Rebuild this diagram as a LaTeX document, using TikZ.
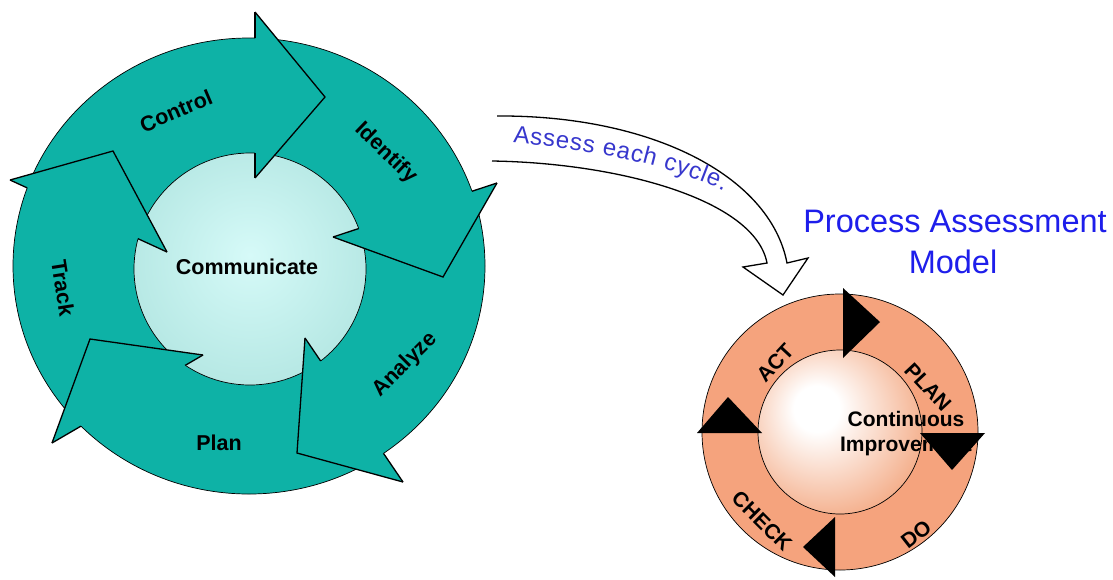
\documentclass[tikz,border=0pt]{standalone}
\usepackage{fontspec}
\setmainfont{Liberation Sans}
\usetikzlibrary{decorations.text}
\definecolor{tealc}{RGB}{14,178,166}
\definecolor{commin}{RGB}{214,250,248}
\definecolor{commout}{RGB}{150,214,208}
\definecolor{salmonc}{RGB}{245,163,125}
\definecolor{orone}{RGB}{242,160,118}
\definecolor{ortwo}{RGB}{222,100,50}
\definecolor{assessblue}{RGB}{55,55,205}
\definecolor{titleblue}{RGB}{30,30,235}
\pgfdeclareradialshading{commshade}{\pgfpoint{0bp}{3bp}}{color(0bp)=(commin); color(53bp)=(commout)}
\pgfdeclareradialshading{orsphere}{\pgfpoint{-8bp}{8bp}}{color(0bp)=(white); color(7bp)=(white); color(35bp)=(orone); color(60bp)=(ortwo)}
\newcommand\lblfont{\fontsize{21.5}{25}\selectfont\bfseries}
\newcommand\rlblfont{\fontsize{21}{25}\selectfont\bfseries}
\newcommand\cifont{\fontsize{21}{25}\selectfont\bfseries}
\newcommand\titlefont{\fontsize{32.5}{38}\selectfont}
\tikzset{
  thinline/.style={draw=black, line width=0.7pt},
  headline/.style={draw=black, line width=1.3pt, line join=miter},
  lbl/.style={font=\lblfont, text=black, inner sep=0pt},
  rlbl/.style={font=\rlblfont, text=black, inner sep=0pt},
  blackhead/.style={fill=black},
}
\begin{document}
\begin{tikzpicture}[x=1pt,y=-1pt]
\fill[white] (0,0) rectangle (1113,579);
\useasboundingbox (0,0) rectangle (1113,579);

% ---------- left cycle ----------
\coordinate (cc) at (249,266);
\draw[thinline, fill=tealc] (cc) ellipse [x radius=236pt, y radius=228pt];
\node[thinline, circle, minimum size=232pt, inner sep=0pt, shade, shading=commshade] (comm) at (250,269) {};

% head corners: O outer, T tip, I inner
\coordinate (ctO) at (255,12);  \coordinate (ctT) at (325,97);  \coordinate (ctI) at (255,178);
\coordinate (idO) at (497,183); \coordinate (idT) at (443,277); \coordinate (idI) at (333,237);
\coordinate (anO) at (403,482); \coordinate (anT) at (297,453); \coordinate (anI) at (305,338);
\coordinate (plO) at (52,443);  \coordinate (plT) at (90,339);  \coordinate (plI) at (203,355);
\coordinate (trO) at (10,180);  \coordinate (trT) at (113,151); \coordinate (trI) at (167,252);

\foreach \h in {ct,id,an,pl,tr}{
  \fill[tealc] (\h O) -- (\h T) -- (\h I) -- cycle;
}
\foreach \h in {ct,id,an,pl,tr}{
  \draw[headline] (\h O) -- (\h T) -- (\h I);
}
\begin{scope}[even odd rule]
  \clip (-20,-20) rectangle (1130,600)
     (cc) ellipse [x radius=236pt, y radius=228pt]
     (250,269) circle [radius=116pt];
  \foreach \h in {ct,id,an,pl,tr}{
    \draw[headline] (\h O) -- (\h I);
  }
\end{scope}

\node[lbl] (tcomm) at (247,267) {Communicate};
\node[lbl, rotate=23] (tcontrol) at (176,111) {Control};
\node[lbl, rotate=-44] (tidentify) at (386,153) {Identify};
\node[lbl, rotate=45] (tanalyze) at (405,365) {Analyze};
\node[lbl] (tplan) at (219,443) {Plan};
\node[lbl, rotate=-81] (ttrack) at (63,288) {Track};

% ---------- hollow arrow ----------
\coordinate (aT0) at (497,116);
\coordinate (aB0) at (492,161);
\coordinate (aHr) at (808,258);
\coordinate (aTip) at (783,295);
\coordinate (aHl) at (743,267);
\draw[line width=1.3pt, fill=white, line join=miter]
  (aT0) .. controls (650,115) and (770,175) .. (787,263)
  -- (aHr) -- (aTip) -- (aHl) -- (767,263)
  .. controls (755,200) and (620,163) .. (aB0);
\path[decorate, decoration={text along path,
   text={|\fontsize{24}{28}\selectfont\color{assessblue}|Assess each cycle.},
   text align={fit to path}}]
  (513,143) .. controls (590,150) and (660,162) .. (724,191);

% ---------- title ----------
\node[anchor=base, font=\titlefont, text=titleblue, inner sep=0pt] (pam1) at (955,232) {Process Assessment};
\node[anchor=base, font=\titlefont, text=titleblue, inner sep=0pt] (pam2) at (953,273) {Model};

% ---------- right cycle ----------
\node[thinline, circle, fill=salmonc, minimum size=276pt, inner sep=0pt] (pdca) at (840,432) {};
\node[thinline, circle, shade, shading=orsphere, minimum size=164pt, inner sep=0pt] (ci) at (840,432) {};

\node[rlbl, rotate=47] (tact) at (775,363) {ACT};
\node[rlbl, rotate=-47] (tplan2) at (928,387) {PLAN};
\node[rlbl, rotate=38] (tdo) at (916,534) {DO};
\node[rlbl, rotate=-45] (tcheck) at (762,521) {CHECK};
\node[rlbl, align=center, font=\cifont] (tci) at (906,434) {Continuous\\Improvement};

\fill[blackhead] (843,288) -- (880,322) -- (843,358) -- cycle;
\fill[blackhead] (920,433) -- (985,433) -- (952,470) -- cycle;
\fill[blackhead] (835,517) -- (835,577) -- (803,547) -- cycle;
\fill[blackhead] (697,433) -- (762,433) -- (728,397) -- cycle;
\end{tikzpicture}
\end{document}
